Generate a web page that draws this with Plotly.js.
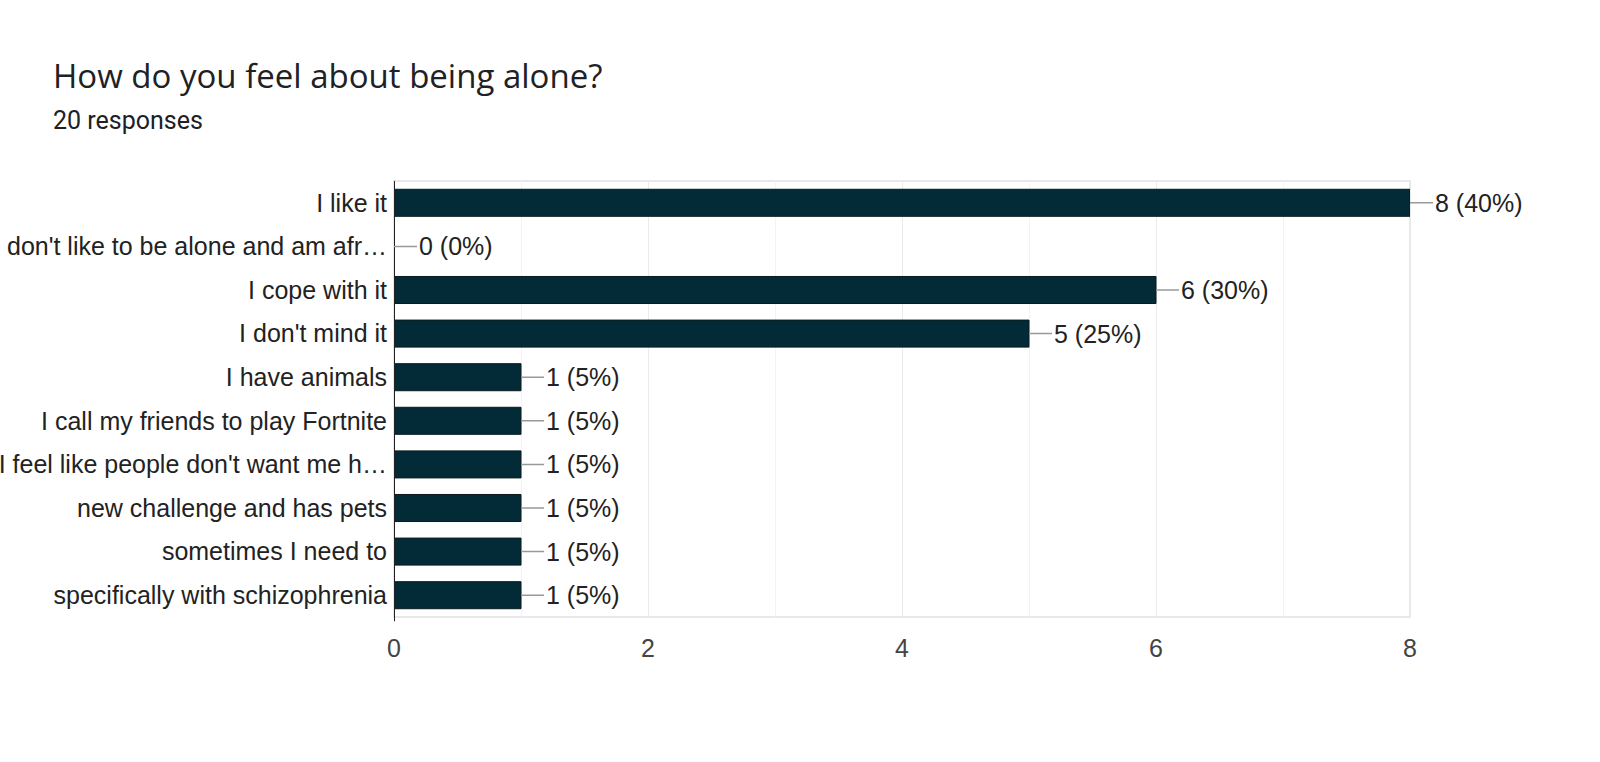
<!DOCTYPE html>
<html>
<head>
<meta charset="utf-8">
<script src="https://cdn.plot.ly/plotly-3.0.1.min.js"></script>
<style>html,body{margin:0;padding:0;background:#fff;}#chart{width:1600px;height:762px;}</style>
</head>
<body>
<div id="chart"></div>
<script>
const categories = [
  "I like it",
  "I don't like to be alone and am afr…",
  "I cope with it",
  "I don't mind it",
  "I have animals",
  "I call my friends to play Fortnite",
  "I feel like people don't want me h…",
  "new challenge and has pets",
  "sometimes I need to",
  "specifically with schizophrenia"
];
const counts = [8, 0, 6, 5, 1, 1, 1, 1, 1, 1];
const totalResponses = 20;
const xTickVals = [0, 2, 4, 6, 8];
const titleText = "How do you feel about being alone?";
const subtitleText = "20 responses";

const PL = 394, PR = 1410, PT = 181, PB = 617;
const PW = PR - PL, PH = PB - PT;

const trace = {
  type: 'bar',
  orientation: 'h',
  x: counts,
  y: categories,
  marker: {color: '#032b37', line: {color: '#0b1a1f', width: 1}},
  hoverinfo: 'none'
};

const labelFont = {family: 'Liberation Sans, Arial, sans-serif', size: 25, color: '#222222'};

const annotations = categories.map((c, i) => ({
  x: counts[i], y: c, xref: 'x', yref: 'y',
  text: counts[i] + ' (' + Math.round(counts[i] / totalResponses * 100) + '%)',
  showarrow: true, arrowhead: 0, arrowwidth: 1.5, arrowcolor: '#999999',
  ax: 23, ay: 0, xanchor: 'left', yanchor: 'middle',
  font: labelFont
}));

annotations.push({
  xref: 'paper', yref: 'paper', x: (52 - PL) / PW, y: (PB - 75) / PH,
  xanchor: 'left', yanchor: 'middle', showarrow: false, borderpad: 0,
  text: titleText,
  font: {family: 'Open Sans, Roboto, sans-serif', size: 33, color: '#202124'}
});
annotations.push({
  xref: 'paper', yref: 'paper', x: (52 - PL) / PW, y: (PB - 120) / PH,
  xanchor: 'left', yanchor: 'middle', showarrow: false, borderpad: 0,
  text: subtitleText,
  font: {family: 'Roboto, sans-serif', size: 25, color: '#202124'}
});

const layout = {
  width: 1600, height: 762,
  margin: {l: PL, r: 1600 - PR, t: PT, b: 762 - PB, pad: 0},
  paper_bgcolor: '#ffffff', plot_bgcolor: '#ffffff',
  showlegend: false,
  bargap: 0.38,
  xaxis: {
    range: [0, 8], tickvals: xTickVals, ticks: '', showline: false, zeroline: false,
    showgrid: true, gridcolor: '#ebebeb', gridwidth: 1,
    minor: {dtick: 1, showgrid: true, gridcolor: '#f3f3f3', gridwidth: 1},
    tickfont: {family: 'Liberation Sans, Arial, sans-serif', size: 25, color: '#444444'},
    ticklabelstandoff: 14, fixedrange: true
  },
  yaxis: {
    autorange: 'reversed', ticks: '', showgrid: false, zeroline: false, showline: false,
    tickfont: labelFont,
    ticklabelstandoff: 6, fixedrange: true
  },
  shapes: [
    {type: 'rect', xref: 'paper', yref: 'paper', x0: 0, x1: 1, y0: 0, y1: 1,
     line: {color: '#e8e8e8', width: 2}, layer: 'below'},
    {type: 'line', xref: 'x', yref: 'paper', x0: 0, x1: 0, y0: -0.01, y1: 1,
     line: {color: '#222222', width: 2}}
  ],
  annotations: annotations
};

Plotly.newPlot('chart', [trace], layout, {displayModeBar: false, staticPlot: true});
</script>
</body>
</html>
